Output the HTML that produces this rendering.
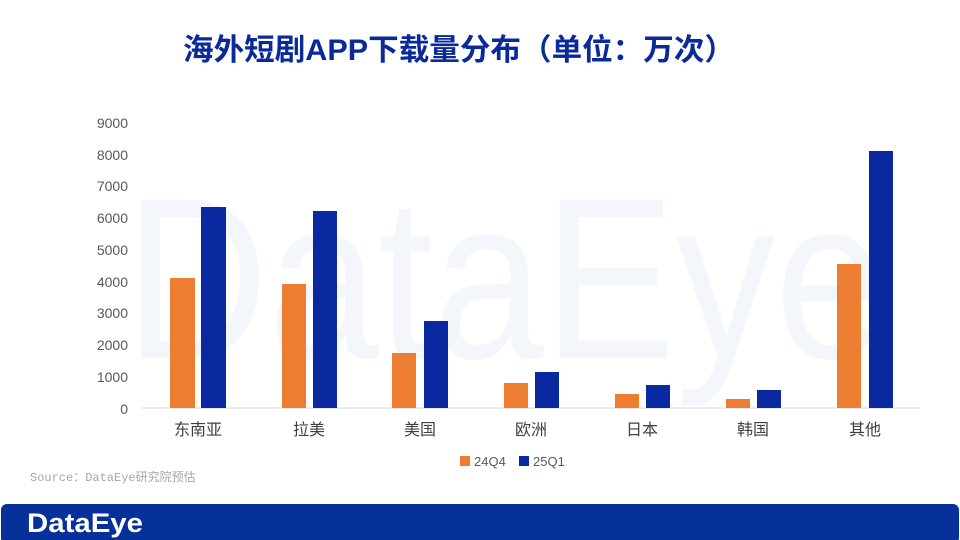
<!DOCTYPE html>
<html><head><meta charset="utf-8"><style>
body{margin:0;width:960px;height:540px;background:#fff;position:relative;overflow:hidden;font-family:"Liberation Sans","Noto Sans CJK SC",sans-serif}
</style></head><body>
<svg width="960" height="540" style="position:absolute;left:0;top:0">
<text x="505" y="358" text-anchor="middle" font-family="Liberation Sans" font-size="230" fill="#f3f7fc" textLength="760" lengthAdjust="spacingAndGlyphs">DataEye</text>
<text x="459" y="60" text-anchor="middle" font-family="Liberation Sans, Noto Sans CJK SC, sans-serif" font-weight="bold" font-size="30" fill="#0a2a9a" textLength="552" lengthAdjust="spacingAndGlyphs">海外短剧APP下载量分布（单位：万次）</text>
<g font-family="Liberation Sans" font-size="14" fill="#595959" text-anchor="end">
<text x="128" y="128">9000</text><text x="128" y="160">8000</text><text x="128" y="191">7000</text>
<text x="128" y="223">6000</text><text x="128" y="255">5000</text><text x="128" y="287">4000</text>
<text x="128" y="318">3000</text><text x="128" y="350">2000</text><text x="128" y="382">1000</text>
<text x="128" y="414">0</text></g>
<line x1="142" y1="408" x2="920" y2="408" stroke="#d9d9d9" stroke-width="1"/>
<g fill="#ed7d31">
<rect x="170" y="278" width="25" height="130"/><rect x="282" y="284" width="24" height="124"/>
<rect x="392" y="353" width="24" height="55"/><rect x="504" y="383" width="24" height="25"/>
<rect x="615" y="394" width="24" height="14"/><rect x="726" y="399" width="24" height="9"/>
<rect x="837" y="264" width="24" height="144"/></g>
<g fill="#0a28a0">
<rect x="201" y="207" width="25" height="201"/><rect x="313" y="211" width="24" height="197"/>
<rect x="424" y="321" width="24" height="87"/><rect x="535" y="372" width="24" height="36"/>
<rect x="646" y="385" width="24" height="23"/><rect x="757" y="390" width="24" height="18"/>
<rect x="869" y="151" width="24" height="257"/></g>
<g font-family="Liberation Sans, Noto Sans CJK SC, sans-serif" font-size="16" fill="#404040" text-anchor="middle">
<text x="198" y="435">东南亚</text><text x="309" y="435">拉美</text><text x="420" y="435">美国</text>
<text x="531" y="435">欧洲</text><text x="642" y="435">日本</text><text x="753" y="435">韩国</text>
<text x="865" y="435">其他</text></g>
<rect x="460" y="456" width="10" height="10" fill="#ed7d31"/>
<text x="474" y="466" font-family="Liberation Sans" font-size="13" fill="#595959">24Q4</text>
<rect x="519" y="456" width="10" height="10" fill="#0a28a0"/>
<text x="533" y="466" font-family="Liberation Sans" font-size="13" fill="#595959">25Q1</text>
<text x="30" y="481" font-family="Liberation Mono, Noto Sans CJK SC, monospace" font-size="12" fill="#a6a6a6">Source：DataEye研究院预估</text>
<rect x="1" y="504" width="958" height="40" rx="6" fill="#06309a"/>
<text x="27" y="532" font-family="Liberation Sans" font-weight="bold" font-size="27" fill="#fff" textLength="116" lengthAdjust="spacingAndGlyphs">DataEye</text>
</svg>
</body></html>
